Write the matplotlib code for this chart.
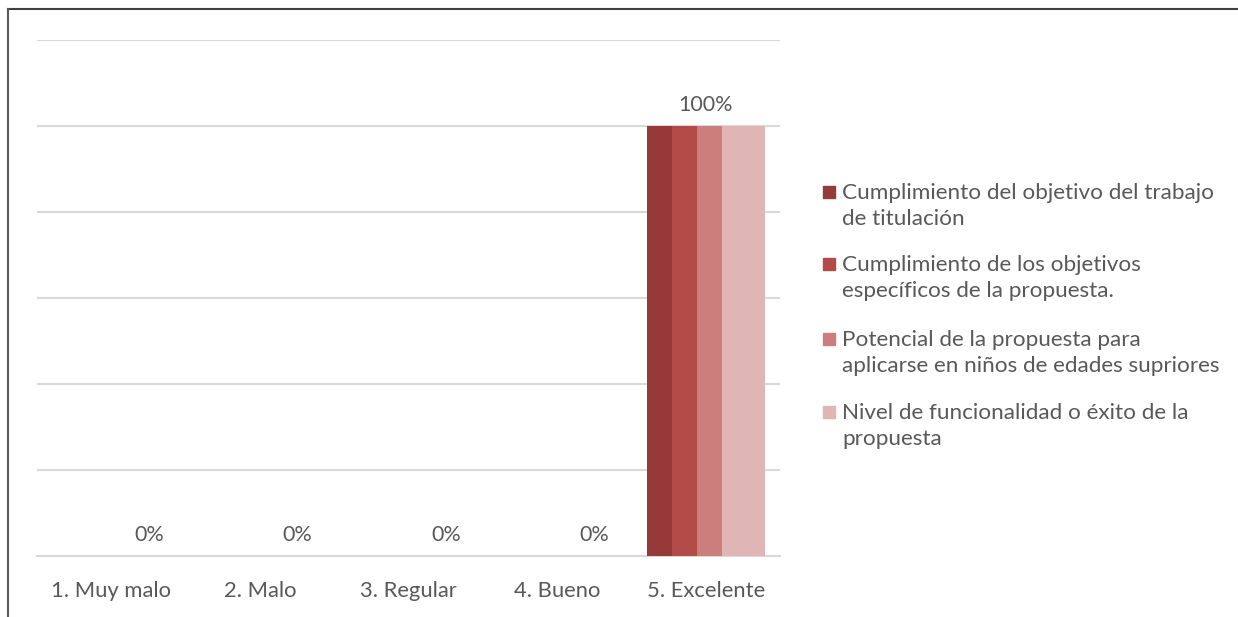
import numpy as np
import matplotlib
matplotlib.use("Agg")
import matplotlib.pyplot as plt
from matplotlib.patches import Rectangle
from matplotlib.lines import Line2D

categories = ["1. Muy malo", "2. Malo", "3. Regular", "4. Bueno", "5. Excelente"]
series_names = [
    "Cumplimiento del objetivo del trabajo\nde titulación",
    "Cumplimiento de los objetivos\nespecíficos de la propuesta.",
    "Potencial de la propuesta para\naplicarse en niños de edades supriores",
    "Nivel de funcionalidad o éxito de la\npropuesta",
]
values = [
    [0, 0, 0, 0, 100],
    [0, 0, 0, 0, 100],
    [0, 0, 0, 0, 100],
    [0, 0, 0, 0, 100],
]
colors = ["#953A39", "#B24A48", "#CC7E7D", "#E0B5B5"]

plt.rcParams["font.family"] = ["Lato", "DejaVu Sans"]
TXT = "#595959"
GRID = "#D9D9D9"

fig = plt.figure(figsize=(12.38, 6.17), dpi=100)
ax = fig.add_axes([0.0299, 0.0989, 0.6002, 0.8363])

x = np.arange(len(categories))
width = 0.29
step = 0.168
n = len(series_names)
for i, (vals, c) in enumerate(zip(values, colors)):
    off = (i - (n - 1) / 2) * step
    ax.bar(x + off, vals, width=width, color=c, zorder=3 + i)

# data labels: last series for zeros, group centre for the full bars
last_off = ((n - 1) - (n - 1) / 2) * step
for xi, v in zip(x, values[-1]):
    xpos = xi + last_off if v == 0 else xi
    ax.annotate(f"{v}%", (xpos, v), xytext=(0, 11), textcoords="offset points",
                ha="center", va="baseline", fontsize=15.5, color=TXT, zorder=10)

ax.set_xlim(-0.5, len(categories) - 0.5)
ax.set_ylim(0, 120)
ax.set_yticks(np.arange(0, 121, 20))
ax.yaxis.grid(True, color=GRID, linewidth=1.5, zorder=0)
ax.set_yticklabels([])
ax.tick_params(axis="y", length=0)
ax.set_xticks(x)
ax.set_xticklabels(categories, fontsize=15.8, color=TXT)
ax.tick_params(axis="x", length=0, pad=18)
for s in ["top", "right", "left"]:
    ax.spines[s].set_visible(False)
ax.spines["bottom"].set_color(GRID)
ax.spines["bottom"].set_linewidth(1.5)

# legend drawn by hand so the marker sits on the first line
W, H = 1238, 617
line_h = 27
leg_base = [198, 270, 345, 418]
for name, c, yb in zip(series_names, colors, leg_base):
    fig.patches.append(Rectangle((823 / W, 1 - yb / H), 12 / W, 12 / H,
                                 transform=fig.transFigure, color=c))
    # multiline baseline alignment uses the last line
    y_last = yb + line_h * name.count("\n")
    fig.text(842 / W, 1 - y_last / H, name, ha="left", va="baseline",
             fontsize=16.2, color=TXT, linespacing=1.37)

# chart frame (top and left edges visible)
fig.add_artist(Line2D([8 / W, 1], [1 - 9 / H, 1 - 9 / H], color="#404040",
                      linewidth=1.5, transform=fig.transFigure))
fig.add_artist(Line2D([8 / W, 8 / W], [0, 1 - 9 / H], color="#595959",
                      linewidth=1.5, transform=fig.transFigure))

fig.savefig("out.png", dpi=100, facecolor="white")
